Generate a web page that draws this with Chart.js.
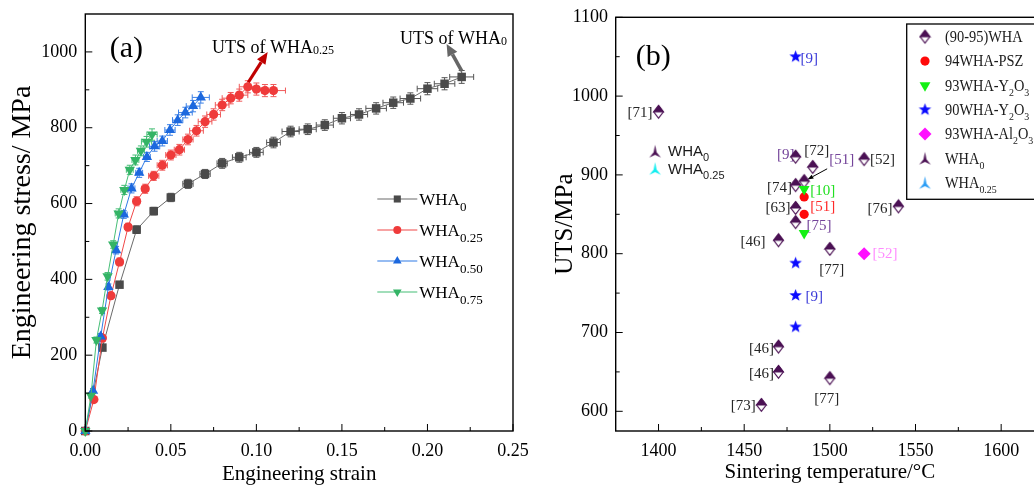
<!DOCTYPE html>
<html>
<head>
<meta charset="utf-8">
<title>Engineering stress–strain curves and UTS versus sintering temperature</title>
<script src="https://cdn.jsdelivr.net/npm/chart.js@4.4.1/dist/chart.umd.min.js"></script>
<style>
  html, body { margin: 0; padding: 0; background: #fff; width: 1034px; height: 487px; overflow: hidden; }
  canvas { position: absolute; top: 0; }
  #stressStrain { left: 0; }
  #utsTemp { left: 530px; }
</style>
</head>
<body>
<canvas id="stressStrain" width="545" height="487"></canvas>
<canvas id="utsTemp" width="530" height="487"></canvas>
<script>
// ================= panel (a): engineering stress–strain =================
const strainTicks      = [0, 0.05, 0.10, 0.15, 0.20, 0.25];
const strainTickLabels = ['0.00', '0.05', '0.10', '0.15', '0.20', '0.25'];
const stressTicks      = [0, 200, 400, 600, 800, 1000];
const stressTickLabels = ['0', '200', '400', '600', '800', '1000'];

const seriesNamesA = ['WHA_{0}', 'WHA_{0.25}', 'WHA_{0.50}', 'WHA_{0.75}'];

const strainW0 = [0, 0.01, 0.02, 0.03, 0.04, 0.05, 0.06, 0.07, 0.08, 0.09, 0.10, 0.11, 0.12, 0.13, 0.14, 0.15, 0.16, 0.17, 0.18, 0.19, 0.20, 0.21, 0.22];
const stressW0 = [0, 220, 386, 531, 580, 616, 652, 678, 706, 722, 735, 761, 790, 796, 807, 825, 835, 851, 866, 877, 903, 916, 934];
const xErrW0   = [0, 0.001, 0.001, 0.002, 0.002, 0.002, 0.003, 0.003, 0.003, 0.004, 0.004, 0.004, 0.005, 0.005, 0.005, 0.005, 0.005, 0.006, 0.006, 0.006, 0.006, 0.006, 0.007];
const yErrW0   = [0, 6, 8, 10, 10, 11, 12, 12, 13, 13, 13, 14, 14, 14, 14, 15, 15, 15, 15, 15, 16, 16, 17];

const strainW25 = [0, 0.005, 0.01, 0.015, 0.02, 0.025, 0.03, 0.035, 0.04, 0.045, 0.05, 0.055, 0.06, 0.065, 0.07, 0.075, 0.08, 0.085, 0.09, 0.095, 0.10, 0.105, 0.11];
const stressW25 = [0, 83, 245, 357, 446, 538, 606, 639, 673, 701, 728, 742, 769, 792, 816, 835, 860, 878, 886, 908, 902, 898, 898];
const xErrW25   = [0, 0.001, 0.001, 0.001, 0.002, 0.002, 0.002, 0.002, 0.003, 0.003, 0.003, 0.003, 0.003, 0.004, 0.004, 0.004, 0.004, 0.005, 0.005, 0.005, 0.006, 0.006, 0.007];
const yErrW25   = [0, 6, 8, 8, 10, 10, 12, 12, 12, 13, 13, 14, 14, 14, 15, 15, 15, 15, 16, 16, 16, 16, 16];

const strainW50 = [0, 0.0045, 0.009, 0.0135, 0.018, 0.0225, 0.027, 0.0315, 0.036, 0.0405, 0.045, 0.0495, 0.054, 0.0585, 0.063, 0.0675];
const stressW50 = [0, 106, 249, 380, 477, 571, 640, 681, 723, 751, 765, 794, 820, 840, 857, 880];
const xErrW50   = [0, 0.001, 0.001, 0.001, 0.001, 0.002, 0.002, 0.002, 0.002, 0.003, 0.003, 0.003, 0.003, 0.004, 0.004, 0.005];
const yErrW50   = [0, 6, 8, 8, 10, 10, 12, 12, 12, 13, 13, 14, 14, 14, 15, 15];

const strainW75 = [0, 0.0033, 0.0065, 0.0098, 0.013, 0.0163, 0.0195, 0.0228, 0.026, 0.0293, 0.0325, 0.0358, 0.039];
const stressW75 = [0, 93, 240, 318, 408, 492, 574, 636, 689, 715, 739, 763, 782];
const xErrW75   = [0, 0.001, 0.001, 0.001, 0.001, 0.001, 0.002, 0.002, 0.002, 0.002, 0.002, 0.003, 0.003];
const yErrW75   = [0, 6, 8, 8, 10, 10, 12, 12, 12, 13, 13, 14, 15];

// ================= panel (b): UTS vs sintering temperature =================
const tempTicks      = [1400, 1450, 1500, 1550, 1600];
const tempTickLabels = ['1400', '1450', '1500', '1550', '1600'];
const utsTicks       = [600, 700, 800, 900, 1000, 1100];
const utsTickLabels  = ['600', '700', '800', '900', '1000', '1100'];

const seriesNamesB = ['(90-95)WHA', '94WHA-PSZ', '93WHA-Y_{2}O_{3}', '90WHA-Y_{2}O_{3}', '93WHA-Al_{2}O_{3}', 'WHA_{0}', 'WHA_{0.25}'];

const whaTemp = [1400, 1480, 1490, 1520, 1480, 1485, 1480, 1480, 1470, 1540, 1500, 1470, 1470, 1500, 1460];
const whaUTS  = [980, 923, 910, 920, 887, 892, 858, 840, 817, 860, 806, 682, 650, 642, 608];
const whaRefs = ['[71]', '[9]', '[72]', '[52]', '[74]', '[51]', '[63]', '[75]', '[46]', '[76]', '[77]', '[46]', '[46]', '[77]', '[73]'];

const pszTemp = [1485, 1485];
const pszUTS  = [872, 850];
const pszRefs = ['[51]', ''];

const y93Temp = [1485, 1485];
const y93UTS  = [882, 826];
const y93Refs = ['[10]', ''];

const y90Temp = [1480, 1480, 1480, 1480];
const y90UTS  = [1050, 788, 747, 707];
const y90Refs = ['[9]', '', '[9]', ''];

const alTemp = [1520];
const alUTS  = [800];
const alRefs = ['[52]'];

const wha0Temp  = [1398];
const wha0UTS   = [930];
const wha25Temp = [1398];
const wha25UTS  = [908];

// ---------------- shared drawing helpers ----------------
const serif = '"Liberation Serif", "Times New Roman", serif';
const sans  = '"Liberation Sans", Arial, sans-serif';

function parseRich(str) {
  const out = []; const re = /_\{([^}]*)\}/g; let last = 0, m;
  while ((m = re.exec(str))) {
    if (m.index > last) out.push({ t: str.slice(last, m.index), sub: false });
    out.push({ t: m[1], sub: true });
    last = re.lastIndex;
  }
  if (last < str.length) out.push({ t: str.slice(last), sub: false });
  return out;
}

// text with subscripts; y is the visual middle of the main-size letters
function drawRich(ctx, str, x, y, o) {
  const size = o.size, sub = o.subSize || Math.round(size * 0.72);
  const drop = o.drop != null ? o.drop : size * 0.3;
  const fam = o.family || serif;
  const hs = o.hscale || 1;
  const segs = parseRich(str);
  let w = 0;
  segs.forEach(s => { ctx.font = (s.sub ? sub : size) + 'px ' + fam; s.w = ctx.measureText(s.t).width; w += s.w; });
  const start = o.align === 'right' ? x - w * hs : o.align === 'center' ? x - w * hs / 2 : x;
  const base = y + size * 0.33;
  ctx.save();
  ctx.translate(start, 0);
  ctx.scale(hs, 1);
  ctx.fillStyle = o.color || '#000';
  ctx.textAlign = 'left'; ctx.textBaseline = 'alphabetic';
  let cx = 0;
  segs.forEach(s => {
    ctx.font = (s.sub ? sub : size) + 'px ' + fam;
    ctx.fillText(s.t, cx, base + (s.sub ? drop : 0));
    cx += s.w;
  });
  ctx.restore();
}

function drawShape(ctx, style, x, y, r, rot, fill) {
  ctx.save();
  ctx.translate(x, y);
  if (style instanceof HTMLCanvasElement) {
    ctx.drawImage(style, -style.width / 2, -style.height / 2);
    ctx.restore(); return;
  }
  ctx.rotate((rot || 0) * Math.PI / 180);
  ctx.fillStyle = fill;
  ctx.beginPath();
  if (style === 'circle') ctx.arc(0, 0, r, 0, 2 * Math.PI);
  else if (style === 'rect') { const s = r * Math.SQRT1_2; ctx.rect(-s, -s, 2 * s, 2 * s); }
  else if (style === 'rectRot') { ctx.moveTo(0, -r); ctx.lineTo(r, 0); ctx.lineTo(0, r); ctx.lineTo(-r, 0); ctx.closePath(); }
  else if (style === 'triangle') {
    for (let k = 0; k < 3; k++) {
      const a = k * 2 * Math.PI / 3, px = Math.sin(a) * r, py = -Math.cos(a) * r;
      k ? ctx.lineTo(px, py) : ctx.moveTo(px, py);
    }
    ctx.closePath();
  }
  ctx.fill();
  ctx.restore();
}

function arrow(ctx, x1, y1, x2, y2, color, lw, headLen, headW) {
  const ang = Math.atan2(y2 - y1, x2 - x1);
  const bx = x2 - Math.cos(ang) * headLen, by = y2 - Math.sin(ang) * headLen;
  ctx.save();
  ctx.strokeStyle = color; ctx.fillStyle = color; ctx.lineWidth = lw;
  ctx.beginPath(); ctx.moveTo(x1, y1); ctx.lineTo(bx, by); ctx.stroke();
  ctx.beginPath();
  ctx.moveTo(x2, y2);
  ctx.lineTo(bx + Math.sin(ang) * headW / 2, by - Math.cos(ang) * headW / 2);
  ctx.lineTo(bx - Math.sin(ang) * headW / 2, by + Math.cos(ang) * headW / 2);
  ctx.closePath(); ctx.fill();
  ctx.restore();
}

// keep the plot box exactly where the layout padding puts it
const fixVertical = w => s => { s.width = w; s.paddingTop = 0; s.paddingBottom = 0; };
const fixHorizontal = h => s => { s.height = h; s.paddingLeft = 0; s.paddingRight = 0; };

// inward major/minor ticks plus the box frame
const frameTicks = {
  id: 'frameTicks',
  afterDraw(chart, args, opts) {
    const { ctx, chartArea: a } = chart;
    const xs = chart.scales.x, ys = chart.scales.y;
    ctx.save();
    ctx.strokeStyle = '#000'; ctx.lineWidth = 1;
    const minors = (vals, lo, hi) => {
      const out = [];
      for (let i = 0; i < vals.length - 1; i++) out.push((vals[i] + vals[i + 1]) / 2);
      if (vals.length > 1) {
        const h = (vals[1] - vals[0]) / 2;
        if (vals[0] - h > lo + 1e-9) out.push(vals[0] - h);
        if (vals[vals.length - 1] + h < hi - 1e-9) out.push(vals[vals.length - 1] + h);
      }
      return out;
    };
    const xv = xs.ticks.map(t => t.value), yv = ys.ticks.map(t => t.value);
    ctx.beginPath();
    xv.forEach(v => { const p = xs.getPixelForValue(v); ctx.moveTo(p, a.bottom); ctx.lineTo(p, a.bottom - opts.major); });
    minors(xv, xs.min, xs.max).forEach(v => { const p = xs.getPixelForValue(v); ctx.moveTo(p, a.bottom); ctx.lineTo(p, a.bottom - opts.minor); });
    yv.forEach(v => { const p = ys.getPixelForValue(v); ctx.moveTo(a.left, p); ctx.lineTo(a.left + opts.major, p); });
    minors(yv, ys.min, ys.max).forEach(v => { const p = ys.getPixelForValue(v); ctx.moveTo(a.left, p); ctx.lineTo(a.left + opts.minor, p); });
    ctx.stroke();
    ctx.lineWidth = 1.4;
    ctx.strokeRect(a.left, a.top, a.right - a.left, a.bottom - a.top);
    ctx.restore();
  }
};

// ---------------- panel (a) ----------------
const errorBars = {
  id: 'errorBars',
  beforeDatasetsDraw(chart) {
    const { ctx, scales: { x, y } } = chart;
    chart.data.datasets.forEach(ds => {
      if (!ds.xErr) return;
      ctx.save();
      ctx.strokeStyle = ds.errColor; ctx.lineWidth = 1;
      ds.data.forEach((p, i) => {
        const px = x.getPixelForValue(p.x), py = y.getPixelForValue(p.y);
        const ey = ds.yErr[i], ex = ds.xErr[i];
        ctx.beginPath();
        if (ey) {
          const t = y.getPixelForValue(p.y + ey), b = y.getPixelForValue(p.y - ey);
          ctx.moveTo(px, t); ctx.lineTo(px, b);
          ctx.moveTo(px - 3, t); ctx.lineTo(px + 3, t);
          ctx.moveTo(px - 3, b); ctx.lineTo(px + 3, b);
        }
        if (ex) {
          const l = x.getPixelForValue(p.x - ex), r = x.getPixelForValue(p.x + ex);
          ctx.moveTo(l, py); ctx.lineTo(r, py);
          ctx.moveTo(l, py - 3); ctx.lineTo(l, py + 3);
          ctx.moveTo(r, py - 3); ctx.lineTo(r, py + 3);
        }
        ctx.stroke();
      });
      ctx.restore();
    });
  }
};

const notesA = {
  id: 'notesA',
  afterDraw(chart) {
    const { ctx, chartArea: a, scales: { x, y } } = chart;
    // panel letter
    ctx.save();
    ctx.font = '30px ' + serif; ctx.fillStyle = '#000'; ctx.textAlign = 'center'; ctx.textBaseline = 'middle';
    ctx.fillText('(a)', a.left + 41, a.top + 35);
    ctx.restore();
    // UTS call-outs
    arrow(ctx, x.getPixelForValue(0.0953), y.getPixelForValue(920), x.getPixelForValue(0.1066), y.getPixelForValue(1000), '#c00000', 3.2, 12, 10);
    arrow(ctx, x.getPixelForValue(0.2200), y.getPixelForValue(950), x.getPixelForValue(0.2112), y.getPixelForValue(1021), '#666666', 3.6, 12, 11);
    drawRich(ctx, 'UTS of WHA_{0.25}', x.getPixelForValue(0.0741), y.getPixelForValue(1013), { size: 18, subSize: 12, drop: 1 });
    drawRich(ctx, 'UTS of WHA_{0}', x.getPixelForValue(0.184), y.getPixelForValue(1037), { size: 18, subSize: 12, drop: 1 });
    // legend
    const lx = a.left + 292, ly = a.top + 185;
    chart.data.datasets.forEach((ds, i) => {
      const yy = ly + i * 31;
      ctx.save();
      ctx.strokeStyle = ds.borderColor; ctx.lineWidth = 1.2;
      ctx.beginPath(); ctx.moveTo(lx, yy); ctx.lineTo(lx + 40, yy); ctx.stroke();
      ctx.restore();
      drawShape(ctx, ds.pointStyle, lx + 20, yy, ds.legendRadius, ds.rotation, ds.pointBackgroundColor);
      drawRich(ctx, ds.label, lx + 42, yy, { size: 17, subSize: 13, drop: 6 });
    });
  }
};

const pts = (xs, ys) => xs.map((v, i) => ({ x: v, y: ys[i] }));

const styleA = [
  { line: '#6a6a6a', mark: '#4a4a4a', err: '#555555', shape: 'rect', r: 6, lr: 5, rot: 0 },
  { line: '#f04848', mark: '#ef3b3b', err: '#f05a5a', shape: 'circle', r: 4.6, lr: 4, rot: 0 },
  { line: '#2f7ae6', mark: '#1c68de', err: '#3b80e6', shape: 'triangle', r: 6, lr: 5, rot: 0 },
  { line: '#45be76', mark: '#34b466', err: '#45be76', shape: 'triangle', r: 6, lr: 5, rot: 180 }
];
const seriesA = [
  [strainW0, stressW0, xErrW0, yErrW0],
  [strainW25, stressW25, xErrW25, yErrW25],
  [strainW50, stressW50, xErrW50, yErrW50],
  [strainW75, stressW75, xErrW75, yErrW75]
];

new Chart(document.getElementById('stressStrain'), {
  type: 'scatter',
  data: {
    datasets: seriesA.map((s, i) => ({
      label: seriesNamesA[i],
      data: pts(s[0], s[1]),
      xErr: s[2], yErr: s[3],
      errColor: styleA[i].err,
      showLine: true,
      borderColor: styleA[i].line,
      borderWidth: 1,
      pointStyle: styleA[i].shape,
      rotation: styleA[i].rot,
      pointRadius: styleA[i].r,
      legendRadius: styleA[i].lr,
      pointBackgroundColor: styleA[i].mark,
      pointBorderColor: styleA[i].mark,
      pointBorderWidth: 0,
      order: 4 - i,
      clip: false
    }))
  },
  options: {
    responsive: false, animation: false, devicePixelRatio: 1, events: [],
    layout: { padding: { left: 0, right: 32, top: 14, bottom: 0 } },
    plugins: { legend: { display: false }, tooltip: { enabled: false }, frameTicks: { major: 7, minor: 4 } },
    scales: {
      x: {
        type: 'linear', min: 0, max: 0.25,
        afterBuildTicks: s => { s.ticks = strainTicks.map(v => ({ value: v })); },
        afterFit: fixHorizontal(56),
        grid: { display: false, drawTicks: false }, border: { display: false },
        ticks: { autoSkip: false, maxRotation: 0, padding: 9, color: '#000', font: { family: serif, size: 18 },
                 callback: (v, i) => strainTickLabels[i] },
        title: { display: true, text: 'Engineering strain', color: '#000', font: { family: serif, size: 21 }, padding: { top: 0, bottom: 0 } }
      },
      y: {
        type: 'linear', min: 0, max: 1100,
        afterBuildTicks: s => { s.ticks = stressTicks.map(v => ({ value: v })); },
        afterFit: fixVertical(85.3),
        grid: { display: false, drawTicks: false }, border: { display: false },
        ticks: { autoSkip: false, padding: 8, color: '#000', font: { family: serif, size: 18 },
                 callback: (v, i) => stressTickLabels[i] },
        title: { display: true, text: 'Engineering stress/ MPa', color: '#000', font: { family: serif, size: 28 }, padding: { top: 6.2, bottom: 0 } }
      }
    }
  },
  plugins: [errorBars, frameTicks, notesA]
});

// ---------------- panel (b) ----------------
function makeIcon(w, h, draw) {
  const c = document.createElement('canvas'); c.width = w; c.height = h;
  draw(c.getContext('2d'), w / 2, h / 2); return c;
}
const purple = '#4b1154';
const halfDiamond = makeIcon(13, 16, (g, cx, cy) => {
  const hw = 4.8, hh = 6.3;
  g.lineWidth = 1.2; g.strokeStyle = purple;
  g.beginPath(); g.moveTo(cx, cy - hh); g.lineTo(cx + hw, cy); g.lineTo(cx, cy + hh); g.lineTo(cx - hw, cy); g.closePath();
  g.fillStyle = '#fff'; g.fill(); g.stroke();
  g.beginPath(); g.moveTo(cx, cy - hh); g.lineTo(cx + hw, cy); g.lineTo(cx - hw, cy); g.closePath();
  g.fillStyle = purple; g.fill(); g.stroke();
});
const blueStar = makeIcon(15, 15, (g, cx, cy) => {
  g.beginPath();
  for (let k = 0; k < 10; k++) {
    const r = k % 2 ? 2.7 : 6.6, a = -Math.PI / 2 + k * Math.PI / 5;
    const px = cx + r * Math.cos(a), py = cy + r * Math.sin(a);
    k ? g.lineTo(px, py) : g.moveTo(px, py);
  }
  g.closePath(); g.fillStyle = '#0a0aff'; g.fill();
});
function tent(color) {
  return makeIcon(15, 15, (g, cx, cy) => {
    g.beginPath();
    g.moveTo(cx, cy - 6.5); g.lineTo(cx + 1.5, cy + 1); g.lineTo(cx + 5.8, cy + 6.2);
    g.lineTo(cx, cy + 3.4); g.lineTo(cx - 5.8, cy + 6.2); g.lineTo(cx - 1.5, cy + 1);
    g.closePath(); g.fillStyle = color; g.fill();
  });
}
const tentPurple = tent(purple), tentCyan = tent('#11eef0'), tentBlue = tent('#2a9df5');

const ink = '#262626', refPurple = '#74449a';
// where each citation tag sits relative to its point (px offsets)
const refLayout = {
  wha: [
    { dx: -6, dy: 0, align: 'right', color: ink },
    { dx: -1, dy: -3, align: 'right', color: refPurple },
    { dx: 4, dy: -17, align: 'center', color: ink },
    { dx: 6, dy: 0, align: 'left', color: ink },
    { dx: -3.5, dy: 2, align: 'right', color: ink },
    { dx: 25, dy: -22, align: 'left', color: refPurple, arrow: [23, -12.4, 3.3, -1.7] },
    { dx: -5, dy: -1, align: 'right', color: ink },
    { dx: 11, dy: 3, align: 'left', color: refPurple },
    { dx: -13, dy: 1, align: 'right', color: ink },
    { dx: -6, dy: 2, align: 'right', color: ink },
    { dx: 2, dy: 20, align: 'center', color: ink },
    { dx: -4.5, dy: 1, align: 'right', color: ink },
    { dx: -4.5, dy: 1, align: 'right', color: ink },
    { dx: -3, dy: 20, align: 'center', color: ink },
    { dx: -5.5, dy: 0, align: 'right', color: ink }
  ],
  psz: [{ dx: 6, dy: 9.4, align: 'left', color: '#ff2a2a' }],
  y93: [{ dx: 6, dy: 1.4, align: 'left', color: '#22e022' }],
  y90: [{ dx: 5, dy: 1, align: 'left', color: '#3a3ad8' }, null, { dx: 10, dy: 1, align: 'left', color: '#3a3ad8' }],
  al:  [{ dx: 8.5, dy: -0.7, align: 'left', color: '#ff8cff' }],
  w0:  [{ dx: 13, dy: 0, align: 'left', color: '#1a1a1a', family: sans, size: 15, subSize: 11, drop: 5 }],
  w25: [{ dx: 13, dy: 0, align: 'left', color: '#1a1a1a', family: sans, size: 15, subSize: 11, drop: 5 }]
};

const refTags = {
  id: 'refTags',
  beforeDatasetsDraw(chart) {
    const { ctx, scales: { x, y } } = chart;
    chart.data.datasets.forEach(ds => {
      const lay = refLayout[ds.key];
      if (!lay || !ds.refs) return;
      ds.refs.forEach((txt, i) => {
        const L = lay[i];
        if (!txt || !L) return;
        const px = x.getPixelForValue(ds.data[i].x), py = y.getPixelForValue(ds.data[i].y);
        drawRich(ctx, txt, px + L.dx, py + L.dy, { size: L.size || 15, subSize: L.subSize, drop: L.drop, family: L.family || serif, color: L.color, align: L.align });
        if (L.arrow) arrow(ctx, px + L.arrow[0], py + L.arrow[1], px + L.arrow[2], py + L.arrow[3], '#000', 1, 6, 4.5);
      });
    });
  }
};

const notesB = {
  id: 'notesB',
  afterDraw(chart) {
    const { ctx, chartArea: a } = chart;
    ctx.save();
    ctx.font = '30px ' + serif; ctx.fillStyle = '#000'; ctx.textAlign = 'center'; ctx.textBaseline = 'middle';
    ctx.fillText('(b)', a.left + 37.5, a.top + 40);
    // legend box
    const bx = a.left + 291, by = a.top + 6.7;
    ctx.fillStyle = '#fff'; ctx.fillRect(bx, by, 260, 175.3);
    ctx.strokeStyle = '#000'; ctx.lineWidth = 1.3; ctx.strokeRect(bx, by, 260, 175.3);
    ctx.restore();
    chart.data.datasets.forEach((ds, i) => {
      const yy = by + 12.7 + i * 24.33;
      drawShape(ctx, ds.legendIcon || ds.pointStyle, bx + 18.3, yy, ds.pointRadius, ds.rotation, ds.pointBackgroundColor);
      drawRich(ctx, ds.label, bx + 38.3, yy, { size: 16, subSize: 11, drop: 5, color: '#1a1a1a', hscale: 0.9 });
    });
  }
};

const seriesB = [
  { key: 'wha', t: whaTemp, u: whaUTS, refs: whaRefs, style: halfDiamond, r: 6, color: purple, rot: 0 },
  { key: 'psz', t: pszTemp, u: pszUTS, refs: pszRefs, style: 'circle', r: 4.6, color: '#ff0a0a', rot: 0 },
  { key: 'y93', t: y93Temp, u: y93UTS, refs: y93Refs, style: 'triangle', r: 6.3, color: '#14f014', rot: 180 },
  { key: 'y90', t: y90Temp, u: y90UTS, refs: y90Refs, style: blueStar, r: 6, color: '#0a0aff', rot: 0 },
  { key: 'al',  t: alTemp,  u: alUTS,  refs: alRefs,  style: 'rectRot', r: 6.5, color: '#ff10ff', rot: 0 },
  { key: 'w0',  t: wha0Temp, u: wha0UTS, refs: ['WHA_{0}'], style: tentPurple, r: 6, color: purple, rot: 0 },
  { key: 'w25', t: wha25Temp, u: wha25UTS, refs: ['WHA_{0.25}'], style: tentCyan, legend: tentBlue, r: 6, color: '#11eef0', rot: 0 }
];

new Chart(document.getElementById('utsTemp'), {
  type: 'scatter',
  data: {
    datasets: seriesB.map((s, i) => ({
      key: s.key,
      label: seriesNamesB[i],
      data: pts(s.t, s.u),
      refs: s.refs,
      pointStyle: s.style,
      legendIcon: s.legend,
      rotation: s.rot,
      pointRadius: s.r,
      pointBackgroundColor: s.color,
      pointBorderColor: s.color,
      pointBorderWidth: 0,
      showLine: false,
      order: i === 0 ? 10 : 7 - i,
      clip: false
    }))
  },
  options: {
    responsive: false, animation: false, devicePixelRatio: 1, events: [],
    layout: { padding: { left: 0, right: 16, top: 17.3, bottom: 0 } },
    plugins: { legend: { display: false }, tooltip: { enabled: false }, frameTicks: { major: 7, minor: 4 } },
    scales: {
      x: {
        type: 'linear', min: 1375, max: 1625,
        afterBuildTicks: s => { s.ticks = tempTicks.map(v => ({ value: v })); },
        afterFit: fixHorizontal(56),
        grid: { display: false, drawTicks: false }, border: { display: false },
        ticks: { autoSkip: false, maxRotation: 0, padding: 9, color: '#000', font: { family: serif, size: 18 },
                 callback: (v, i) => tempTickLabels[i] },
        title: { display: true, text: 'Sintering temperature/°C', color: '#000', font: { family: serif, size: 21 }, padding: { top: 0, bottom: 1.5 } }
      },
      y: {
        type: 'linear', min: 575, max: 1100,
        afterBuildTicks: s => { s.ticks = utsTicks.map(v => ({ value: v })); },
        afterFit: fixVertical(85.7),
        grid: { display: false, drawTicks: false }, border: { display: false },
        ticks: { autoSkip: false, padding: 7.7, color: '#000', font: { family: serif, size: 18 },
                 callback: (v, i) => utsTickLabels[i] },
        title: { display: true, text: 'UTS/MPa', color: '#000', font: { family: serif, size: 25 }, padding: { top: 20, bottom: 0 } }
      }
    }
  },
  plugins: [refTags, frameTicks, notesB]
});
</script>
</body>
</html>
